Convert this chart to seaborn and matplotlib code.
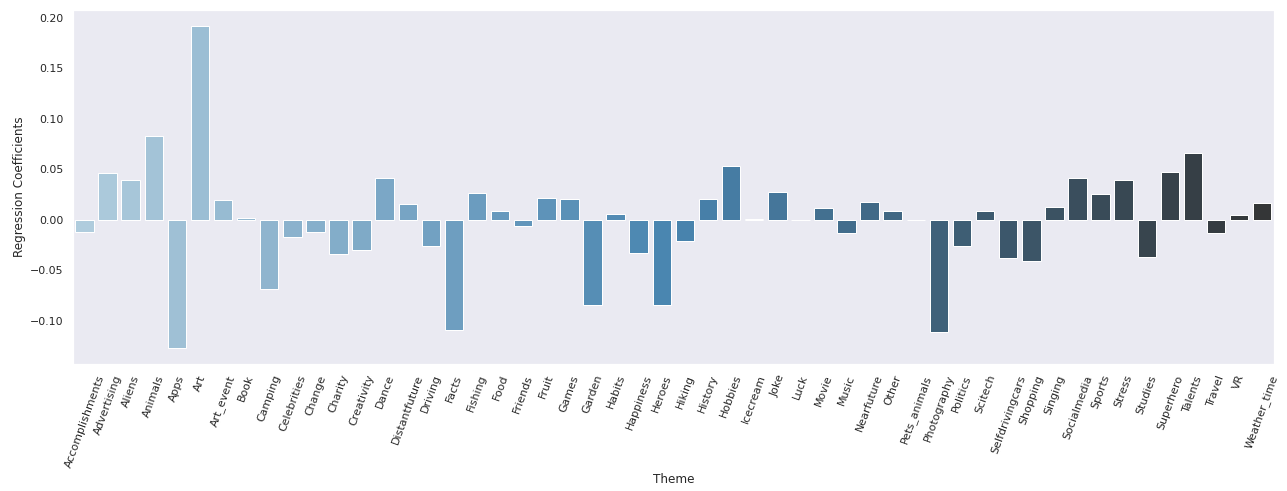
import numpy as np
import pandas as pd
import matplotlib
matplotlib.use("Agg")
import matplotlib.pyplot as plt
import seaborn as sns

# ---------------------------------------------------------------------------
# Data
# ---------------------------------------------------------------------------

THEMES = [
    "Accomplishments", "Advertising", "Aliens", "Animals", "Apps", "Art",
    "Art_event", "Book", "Camping", "Celebrities", "Change", "Charity",
    "Creativity", "Dance", "Distantfuture", "Driving", "Facts", "Fishing",
    "Food", "Friends", "Fruit", "Games", "Garden", "Habits", "Happiness",
    "Heroes", "Hiking", "History", "Hobbies", "Icecream", "Joke", "Luck",
    "Movie", "Music", "Nearfuture", "Other", "Pets_animals", "Photography",
    "Politics", "Scitech", "Selfdrivingcars", "Shopping", "Singing",
    "Socialmedia", "Sports", "Stress", "Studies", "Superhero", "Talents",
    "Travel", "VR", "Weather_time",
]

COEFS = [
    -0.0122, 0.0460, 0.0390, 0.0834, -0.1270, 0.1918,
    0.0194, 0.0016, -0.0683, -0.0171, -0.0122, -0.0338,
    -0.0299, 0.0410, 0.0154, -0.0259, -0.1097, 0.0263,
    0.0085, -0.0062, 0.0213, 0.0204, -0.0847, 0.0056, -0.0328,
    -0.0847, -0.0210, 0.0204, 0.0529, 0.0002, 0.0273, -0.0002,
    0.0115, -0.0131, 0.0174, 0.0085, 0.0001, -0.1113,
    -0.0259, 0.0085, -0.0384, -0.0407, 0.0125,
    0.0417, 0.0253, 0.0390, -0.0374, 0.0470, 0.0657,
    -0.0131, 0.0043, 0.0164,
]

# ---------------------------------------------------------------------------
# Plot
# ---------------------------------------------------------------------------

sns.set_theme(style="dark", context="notebook")

df = pd.DataFrame({"Theme": THEMES, "Regression Coefficients": COEFS})

fig, ax = plt.subplots(figsize=(1287 / 72, 491 / 72), dpi=72)
sns.barplot(data=df, x="Theme", y="Regression Coefficients", hue="Theme",
            palette="Blues_d", legend=False, ax=ax)

ax.set_xlabel("Theme")
ax.set_ylabel("Regression Coefficients")
plt.setp(ax.get_xticklabels(), rotation=70)

fig.subplots_adjust(left=0.0567, right=0.9897, top=0.9796, bottom=0.2587)
fig.savefig("out.png", dpi=72)
plt.close(fig)
